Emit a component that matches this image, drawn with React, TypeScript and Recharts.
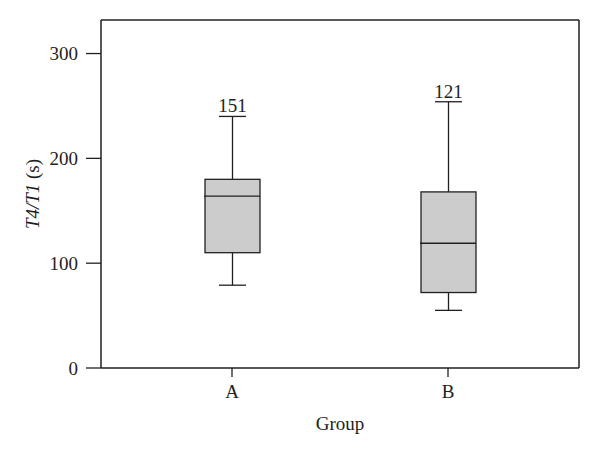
import { ComposedChart, Bar, XAxis, YAxis, LabelList, Label } from 'recharts'

// box plot values
const groups = ['A', 'B']
const whiskerLow = [79, 55]
const q1 = [110, 72]
const median = [164, 119]
const q3 = [180, 168]
const whiskerHigh = [240, 254]
const topLabels = ['151', '121']
const yTicks = [0, 100, 200, 300]

const data = groups.map((g, i) => ({
  group: g,
  range: [whiskerLow[i], whiskerHigh[i]],
  q1: q1[i],
  median: median[i],
  q3: q3[i],
  label: topLabels[i],
}))

const FONT = '"Liberation Serif", "DejaVu Serif", serif'
const INK = '#231f20'

// draws whiskers + box from the range bar's rect (top = max, bottom = min)
const BoxShape = (props: any) => {
  const { x, y, width, height, payload } = props
  const [lo, hi] = payload.range
  const px = (v: number) => y + (height * (hi - v)) / (hi - lo)
  const cx = x + width / 2
  const cap = 27
  const yQ1 = px(payload.q1)
  const yQ3 = px(payload.q3)
  const yMed = px(payload.median)
  return (
    <g stroke={INK} strokeWidth={1.3}>
      <line x1={cx} x2={cx} y1={y} y2={yQ3} />
      <line x1={cx} x2={cx} y1={yQ1} y2={y + height} />
      <line x1={cx - cap / 2} x2={cx + cap / 2} y1={y} y2={y} />
      <line x1={cx - cap / 2} x2={cx + cap / 2} y1={y + height} y2={y + height} />
      <rect x={x} y={yQ3} width={width} height={yQ1 - yQ3} fill="#cccccc" />
      <line x1={x - 1} x2={x + width} y1={yMed} y2={yMed} />
    </g>
  )
}

const TopLabel = (props: any) => {
  const { x, y, width, value } = props
  return (
    <text x={x + width / 2} y={y - 4} textAnchor="middle" fontFamily={FONT} fontSize={19} fill={INK}>
      {value}
    </text>
  )
}

const YTitle = (props: any) => {
  const { viewBox } = props
  const cx = viewBox.x + 24
  const cy = viewBox.y + viewBox.height / 2
  return (
    <text
      x={cx}
      y={cy}
      transform={`rotate(-90 ${cx} ${cy})`}
      textAnchor="middle"
      dominantBaseline="central"
      fontFamily={FONT}
      fontSize={19}
      fill={INK}
    >
      <tspan fontStyle="italic">T4/T1</tspan>
      <tspan> (s)</tspan>
    </text>
  )
}

export default function App() {
  const axisLine = { stroke: INK, strokeWidth: 1.5 }
  const tick = { fontFamily: FONT, fontSize: 19, fill: INK }
  return (
    <ComposedChart width={592} height={440} data={data} margin={{ top: 11, right: 0, bottom: 0, left: 0 }}>
      <XAxis
        dataKey="group"
        height={80}
        padding={{ left: 23, right: 23 }}
        axisLine={axisLine}
        tickLine={{ stroke: INK, strokeWidth: 1.3 }}
        tickSize={9}
        tickMargin={8}
        tick={tick}
      >
        <Label
          value="Group"
          position="bottom"
          offset={-31}
          style={{ fontFamily: FONT, fontSize: 19, fill: INK }}
        />
      </XAxis>
      <XAxis
        xAxisId="top"
        dataKey="group"
        orientation="top"
        height={1}
        tick={false}
        tickLine={false}
        axisLine={axisLine}
      />
      <YAxis
        width={93}
        domain={[0, 332]}
        ticks={yTicks}
        allowDataOverflow
        axisLine={axisLine}
        tickLine={{ stroke: INK, strokeWidth: 1.3 }}
        tickSize={15}
        tickMargin={8}
        tick={tick}
      >
        <Label content={<YTitle />} />
      </YAxis>
      <YAxis yAxisId="r" orientation="right" width={21} tick={false} tickLine={false} axisLine={axisLine} />
      <Bar dataKey="range" barSize={55} shape={<BoxShape />} isAnimationActive={false}>
        <LabelList dataKey="label" content={<TopLabel />} />
      </Bar>
    </ComposedChart>
  )
}
